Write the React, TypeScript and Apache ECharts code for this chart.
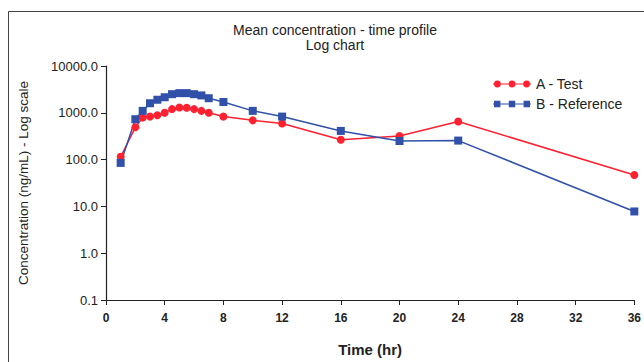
import React, { useEffect, useRef } from "react";
import * as echarts from "echarts";

const times = [1, 2, 2.5, 3, 3.5, 4, 4.5, 5, 5.5, 6, 6.5, 7, 8, 10, 12, 16, 20, 24, 36];
const testValues = [115, 490, 790, 830, 890, 1000, 1200, 1300, 1280, 1200, 1100, 1000, 830, 690, 590, 265, 320, 650, 47];
const refValues = [85, 730, 1100, 1600, 1900, 2150, 2500, 2630, 2630, 2500, 2350, 2050, 1700, 1100, 830, 410, 250, 255, 7.8];
const xTicks = { min: 0, max: 36, interval: 4 };
const yRange = { min: 0.1, max: 10000 };
const seriesNames = ["A - Test", "B - Reference"];

const FONT = "Liberation Sans, Arial, sans-serif";
const RED = "#ff2030";
const BLUE = "#3050aa";

const circleIcon =
  "path://M0 4.4H38V5.6H0Z M1 5a3.4 3.4 0 1 1 6.8 0a3.4 3.4 0 1 1 -6.8 0Z M15.6 5a3.4 3.4 0 1 1 6.8 0a3.4 3.4 0 1 1 -6.8 0Z M30.2 5a3.4 3.4 0 1 1 6.8 0a3.4 3.4 0 1 1 -6.8 0Z M0 1.6H0.01V8.4H0Z";
const squareIcon =
  "path://M0 4.4H38V5.6H0Z M1 1.8h6.4v6.4h-6.4Z M15.8 1.8h6.4v6.4h-6.4Z M30.6 1.8h6.4v6.4h-6.4Z M0 1.6H0.01V8.4H0Z";

export default function App() {
  const ref = useRef<HTMLDivElement>(null);
  useEffect(() => {
    if (!ref.current) return;
    const chart = echarts.init(ref.current, undefined, { renderer: "svg" });
    chart.setOption({
      animation: false,
      backgroundColor: "#ffffff",
      title: {
        text: "Mean concentration - time profile\nLog chart",
        left: 330,
        textAlign: "center",
        top: 17,
        textStyle: { fontFamily: FONT, fontSize: 14, fontWeight: "normal", color: "#222", lineHeight: 15 },
      },
      graphic: [
        {
          type: "rect",
          shape: { x: 8.5, y: 11.5, width: 700, height: 400 },
          style: { fill: "none", stroke: "#444", lineWidth: 1 },
          silent: true,
        },
      ],
      legend: {
        orient: "vertical",
        left: 488,
        top: 72,
        itemWidth: 38,
        itemHeight: 7,
        itemGap: 6,
        textStyle: { fontFamily: FONT, fontSize: 14, color: "#222" },
        data: [
          { name: seriesNames[0], icon: circleIcon },
          { name: seriesNames[1], icon: squareIcon },
        ],
      },
      grid: { left: 106, right: 6, top: 66, bottom: 62 },
      xAxis: {
        type: "value",
        min: xTicks.min,
        max: xTicks.max,
        interval: xTicks.interval,
        name: "Time (hr)",
        nameLocation: "middle",
        nameGap: 42,
        nameTextStyle: { fontFamily: FONT, fontSize: 15, fontWeight: "bold", color: "#222" },
        axisLine: { lineStyle: { color: "#222", width: 1.2 } },
        axisTick: { show: true, length: 5, lineStyle: { color: "#222" } },
        axisLabel: { fontFamily: FONT, fontSize: 12, fontWeight: "bold", color: "#222", margin: 12 },
        splitLine: { show: false },
      },
      yAxis: {
        type: "log",
        logBase: 10,
        min: yRange.min,
        max: yRange.max,
        name: "Concentration (ng/mL) - Log scale",
        nameLocation: "middle",
        nameGap: 76,
        nameTextStyle: { fontFamily: FONT, fontSize: 13.5, color: "#222" },
        axisLine: { show: true, lineStyle: { color: "#222", width: 1.2 } },
        axisTick: { show: true, length: 5, lineStyle: { color: "#222" } },
        axisLabel: {
          fontFamily: FONT,
          fontSize: 13,
          color: "#222",
          margin: 8,
          formatter: (v: number) => Number(v).toFixed(1),
        },
        splitLine: { show: false },
      },
      series: [
        {
          name: seriesNames[0],
          type: "line",
          data: times.map((t, i) => [t, testValues[i]]),
          symbol: "circle",
          symbolSize: 8,
          color: RED,
          lineStyle: { color: RED, width: 1.5 },
          itemStyle: { color: RED },
        },
        {
          name: seriesNames[1],
          type: "line",
          data: times.map((t, i) => [t, refValues[i]]),
          symbol: "rect",
          symbolSize: 8,
          color: BLUE,
          lineStyle: { color: BLUE, width: 1.5 },
          itemStyle: { color: BLUE },
        },
      ],
    });
    return () => chart.dispose();
  }, []);
  return <div ref={ref} style={{ width: 644, height: 362, position: "fixed", left: 0, top: 0 }} />;
}
